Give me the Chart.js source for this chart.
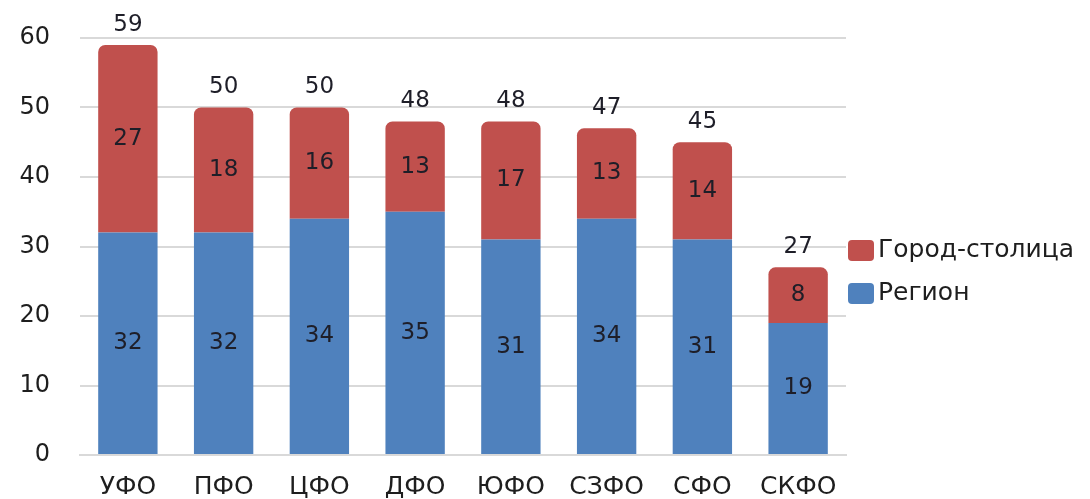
<!DOCTYPE html>
<html lang="ru">
<head>
    <meta charset="UTF-8">
    <title>Регион и город-столица</title>
    <script src="https://cdn.jsdelivr.net/npm/chart.js"></script>
    <style>
        html, body { margin: 0; padding: 0; background: #fff; }
        #wrap { width: 1090px; height: 499px; }
    </style>
</head>
<body>
    <div id="wrap"><canvas id="myChart" width="1090" height="499"></canvas></div>
    <script>
        const districts = ['УФО', 'ПФО', 'ЦФО', 'ДФО', 'ЮФО', 'СЗФО', 'СФО', 'СКФО'];
        const regionValues = [32, 32, 34, 35, 31, 34, 31, 19];
        const capitalValues = [27, 18, 16, 13, 17, 13, 14, 8];
        const totals = [59, 50, 50, 48, 48, 47, 45, 27];
        const yTicks = [0, 10, 20, 30, 40, 50, 60];

        const FONT = 'DejaVu Sans';
        const BLUE = '#4f81bd';
        const RED = '#c0504d';

        // numbers inside the segments and totals on top
        const labelsPlugin = {
            id: 'barLabels',
            afterDatasetsDraw(chart) {
                const ctx = chart.ctx;
                ctx.save();
                ctx.font = '23px "' + FONT + '"';
                ctx.fillStyle = '#1e1e28';
                ctx.textAlign = 'center';
                ctx.textBaseline = 'middle';
                chart.data.datasets.forEach((ds, i) => {
                    chart.getDatasetMeta(i).data.forEach((bar, j) => {
                        ctx.fillText(ds.data[j], bar.x, (bar.y + bar.base) / 2);
                    });
                });
                const top = chart.getDatasetMeta(1).data;
                top.forEach((bar, j) => {
                    ctx.fillText(totals[j], bar.x, bar.y - 20);
                });
                ctx.restore();
            }
        };

        // legend at the right, top entry is the capital
        const legendPlugin = {
            id: 'sideLegend',
            afterDraw(chart) {
                const ctx = chart.ctx;
                const items = [chart.data.datasets[1], chart.data.datasets[0]];
                const x = chart.chartArea.right + 2;
                let y = 250;
                ctx.save();
                ctx.font = '25px "' + FONT + '"';
                ctx.textBaseline = 'middle';
                items.forEach(ds => {
                    ctx.fillStyle = ds.backgroundColor;
                    ctx.beginPath();
                    ctx.roundRect(x, y - 10, 26, 21, 4);
                    ctx.fill();
                    ctx.fillStyle = '#1e1e1e';
                    ctx.fillText(ds.label, x + 30, y);
                    y += 43;
                });
                ctx.restore();
            }
        };

        const ctx = document.getElementById('myChart').getContext('2d');
        new Chart(ctx, {
            type: 'bar',
            data: {
                labels: districts,
                datasets: [
                    {
                        label: 'Регион',
                        data: regionValues,
                        backgroundColor: BLUE,
                        categoryPercentage: 0.62,
                        barPercentage: 1
                    },
                    {
                        label: 'Город-столица',
                        data: capitalValues,
                        backgroundColor: RED,
                        borderRadius: { topLeft: 7, topRight: 7, bottomLeft: 0, bottomRight: 0 },
                        borderSkipped: false,
                        categoryPercentage: 0.62,
                        barPercentage: 1
                    }
                ]
            },
            options: {
                responsive: false,
                animation: false,
                layout: { padding: { top: 38, right: 244, bottom: 0, left: 0 } },
                plugins: {
                    legend: { display: false },
                    tooltip: { enabled: false }
                },
                scales: {
                    x: {
                        stacked: true,
                        afterFit(scale) { scale.height = 44; },
                        grid: { display: false },
                        border: { color: '#d9d9d9', width: 2 },
                        ticks: {
                            color: '#1e1e1e',
                            font: { family: FONT, size: 25 },
                            padding: 9
                        }
                    },
                    y: {
                        stacked: true,
                        min: 0,
                        max: 60,
                        afterFit(scale) {
                            scale.width = 80;
                            scale.paddingTop = 15;
                            scale.paddingBottom = 15;
                        },
                        afterBuildTicks(axis) {
                            axis.ticks = yTicks.map(v => ({ value: v }));
                        },
                        grid: { color: '#d9d9d9', lineWidth: 2, drawTicks: false },
                        border: { display: false },
                        ticks: {
                            color: '#1e1e1e',
                            font: { family: FONT, size: 24 },
                            padding: 30
                        }
                    }
                }
            },
            plugins: [labelsPlugin, legendPlugin]
        });
    </script>
</body>
</html>
